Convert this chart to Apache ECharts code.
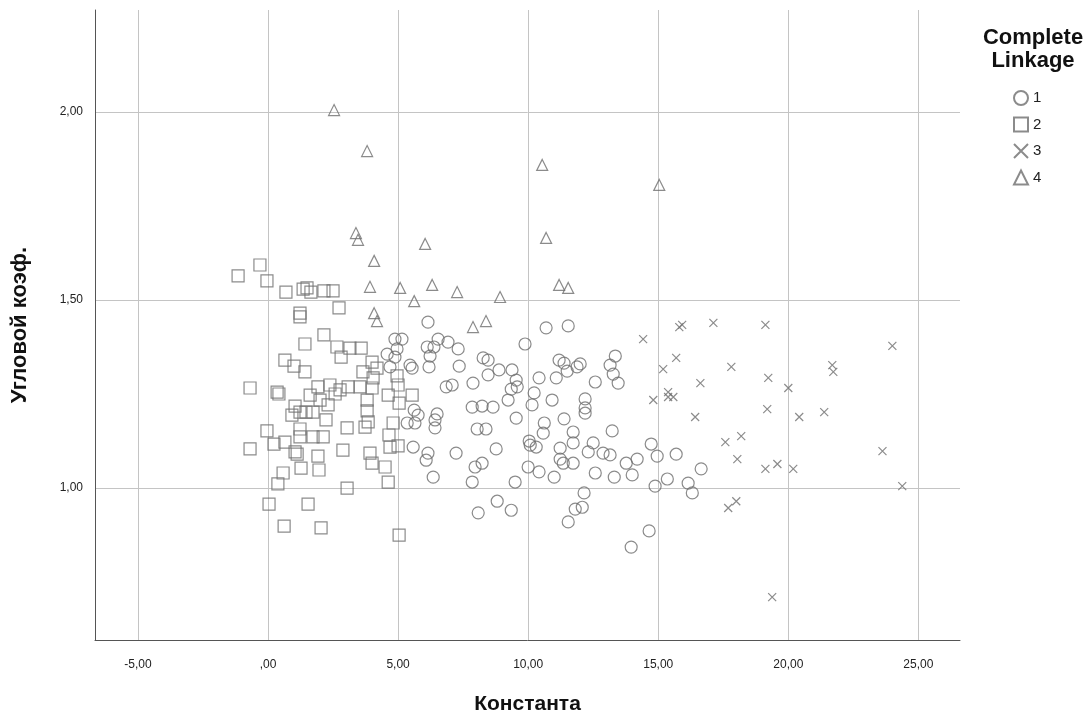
<!DOCTYPE html>
<html>
<head>
<meta charset="utf-8">
<script src="https://cdn.jsdelivr.net/npm/echarts@6/dist/echarts.min.js"></script>
<style>
html,body{margin:0;padding:0;background:#fff;}
#chart{width:1086px;height:713px;}
</style>
</head>
<body>
<div id="chart"></div>
<script>
// Cluster labels
const clusterNames = ['1', '2', '3', '4'];
// Tick values
const xTicks = [-5, 0, 5, 10, 15, 20, 25];
const yTicks = [1.0, 1.5, 2.0];

// Cluster 1 (circles): [Константа, Угловой коэф.]
const cluster1 = [
  [6.15,1.441],[4.88,1.396],[5.15,1.396],[4.96,1.370],[4.58,1.356],[4.88,1.348],[4.69,1.322],
  [6.12,1.375],[6.38,1.375],[6.54,1.396],[6.92,1.388],[7.31,1.370],[6.23,1.351],[6.19,1.322],
  [7.35,1.324],[5.46,1.327],[5.54,1.319],[6.85,1.269],[7.08,1.274],[5.62,1.207],[5.77,1.194],
  [5.65,1.173],[5.35,1.173],[6.50,1.197],[6.42,1.181],[6.42,1.160],[5.58,1.109],[6.15,1.093],
  [6.08,1.074],[7.23,1.093],[6.35,1.029],[10.69,1.426],[11.54,1.431],[9.88,1.383],[8.27,1.346],
  [8.46,1.340],[8.46,1.301],[8.88,1.314],[9.38,1.314],[7.88,1.279],[9.54,1.287],[9.58,1.269],
  [9.35,1.263],[9.23,1.234],[7.85,1.215],[8.23,1.218],[8.65,1.215],[9.54,1.186],[11.19,1.340],
  [11.38,1.332],[11.50,1.311],[11.88,1.322],[12.00,1.330],[10.42,1.293],[11.08,1.293],[10.23,1.253],
  [10.92,1.234],[10.15,1.221],[12.19,1.237],[12.19,1.213],[12.19,1.199],[10.62,1.173],[11.38,1.184],
  [8.04,1.157],[8.38,1.157],[10.58,1.146],[11.73,1.149],[11.73,1.120],[12.31,1.096],[8.77,1.104],
  [10.04,1.125],[10.08,1.114],[10.31,1.109],[11.23,1.106],[11.23,1.077],[11.35,1.066],[11.73,1.066],
  [7.96,1.056],[8.23,1.066],[10.00,1.056],[10.42,1.043],[11.00,1.029],[7.85,1.016],[9.50,1.016],
  [8.81,0.965],[8.08,0.934],[9.35,0.941],[12.15,0.987],[11.81,0.944],[12.08,0.949],[11.54,0.910],
  [13.35,1.351],[13.15,1.327],[13.27,1.303],[13.46,1.279],[12.58,1.282],[13.23,1.152],[12.50,1.120],
  [12.88,1.093],[13.15,1.088],[13.77,1.066],[14.19,1.077],[14.73,1.117],[14.96,1.085],[15.69,1.090],
  [12.58,1.040],[13.31,1.029],[14.00,1.035],[14.88,1.005],[15.35,1.024],[16.15,1.013],[16.31,0.987],
  [16.65,1.051],[14.65,0.886],[13.96,0.843]
];

// Cluster 2 (squares)
const cluster2 = [
  [-1.15,1.564],[-0.31,1.593],[-0.04,1.551],[0.69,1.521],[1.35,1.529],[1.50,1.532],[1.65,1.521],
  [2.15,1.524],[2.50,1.524],[2.73,1.479],[1.23,1.465],[1.23,1.455],[2.15,1.407],[1.42,1.383],
  [2.65,1.375],[2.81,1.348],[0.65,1.340],[1.00,1.324],[1.42,1.309],[3.15,1.372],[3.58,1.372],
  [4.00,1.335],[4.19,1.319],[3.65,1.309],[4.04,1.293],[-0.69,1.266],[0.35,1.255],[0.42,1.250],
  [1.62,1.247],[1.92,1.269],[2.38,1.274],[2.58,1.250],[3.08,1.269],[3.54,1.269],[4.00,1.266],
  [4.62,1.247],[5.00,1.274],[5.54,1.247],[1.04,1.218],[0.92,1.194],[1.23,1.202],[1.46,1.202],
  [1.73,1.202],[2.23,1.181],[-0.04,1.152],[1.23,1.157],[1.23,1.136],[1.73,1.136],[2.12,1.136],
  [3.04,1.160],[-0.69,1.104],[0.23,1.117],[0.65,1.122],[1.04,1.096],[1.12,1.090],[1.92,1.085],
  [2.88,1.101],[0.58,1.040],[1.27,1.053],[1.96,1.048],[0.38,1.011],[3.04,1.000],[0.04,0.957],
  [1.54,0.957],[0.62,0.899],[2.04,0.894],[3.81,1.234],[5.04,1.226],[3.81,1.205],[3.85,1.176],
  [3.73,1.162],[4.81,1.173],[4.65,1.141],[4.69,1.109],[5.00,1.112],[3.92,1.093],[4.00,1.066],
  [4.50,1.056],[4.62,1.016],[5.04,0.875],[2.31,1.221],[2.00,1.234],[2.77,1.261],[4.96,1.298]
];

// Cluster 3 (crosses)
const cluster3 = [
  [14.42,1.396],[15.81,1.428],[15.92,1.434],[17.12,1.439],[19.12,1.434],[24.00,1.378],[15.69,1.346],
  [15.19,1.316],[17.81,1.322],[21.69,1.327],[21.73,1.309],[16.62,1.279],[19.23,1.293],[20.00,1.266],
  [14.81,1.234],[15.38,1.255],[15.38,1.242],[15.58,1.242],[16.42,1.189],[19.19,1.210],[20.42,1.189],
  [21.38,1.202],[17.58,1.122],[18.19,1.138],[18.04,1.077],[19.12,1.051],[19.58,1.064],[20.19,1.051],
  [23.62,1.098],[24.38,1.005],[17.69,0.947],[18.00,0.965],[19.38,0.710]
];

// Cluster 4 (triangles)
const cluster4 = [
  [2.54,2.005],[3.81,1.896],[10.54,1.859],[15.04,1.806],[3.38,1.678],[3.46,1.660],[10.69,1.665],
  [6.04,1.649],[4.08,1.604],[3.92,1.535],[5.08,1.532],[6.31,1.540],[7.27,1.521],[5.62,1.497],
  [8.92,1.508],[11.19,1.540],[11.54,1.532],[4.08,1.465],[4.19,1.444],[8.38,1.444],[7.88,1.428]
];

function fmt(v) {
  let s = Math.abs(v).toFixed(2).replace('.', ',');
  if (Math.abs(v) < 1) s = s.replace(/^0/, '');
  return (v < 0 ? '-' : '') + s;
}

const stroke = '#6e6e6e';
const crossPath = 'path://M0,0L10,10M10,0L0,10';
const seriesDefs = [
  {name: clusterNames[0], data: cluster1, symbol: 'circle', size: 12},
  {name: clusterNames[1], data: cluster2, symbol: 'rect', size: 12},
  {name: clusterNames[2], data: cluster3, symbol: crossPath, size: 8},
  {name: clusterNames[3], data: cluster4, symbol: 'triangle', size: 11}
];

const chart = echarts.init(document.getElementById('chart'), null, {renderer: 'canvas'});
const font = '"Liberation Sans", Arial, sans-serif';

chart.setOption({
  animation: false,
  backgroundColor: '#ffffff',
  textStyle: {fontFamily: font},
  title: {
    text: 'Complete\nLinkage',
    left: 1028, top: 21,
    textAlign: 'center',
    textStyle: {fontSize: 22, fontWeight: 'bold', color: '#111', lineHeight: 23, fontFamily: font}
  },
  legend: {
    orient: 'vertical',
    left: 1008, top: 85,
    itemWidth: 14, itemHeight: 14, itemGap: 10.5,
    textStyle: {fontSize: 15, color: '#222'},
    data: clusterNames
  },
  grid: {left: 95, right: 126, top: 10, bottom: 73, containLabel: false, outerBoundsMode: 'none'},
  xAxis: {
    type: 'value', min: -6.65, max: 26.6,
    name: 'Константа', nameLocation: 'middle', nameGap: 54,
    nameTextStyle: {fontSize: 21, fontWeight: 'bold', color: '#111', fontFamily: font},
    axisLine: {show: true, onZero: false, lineStyle: {color: '#555', width: 1}},
    axisTick: {show: false, customValues: xTicks},
    axisLabel: {customValues: xTicks, formatter: fmt, fontSize: 12, color: '#222', margin: 19},
    splitLine: {show: true, lineStyle: {color: '#c4c4c4', width: 1}}
  },
  yAxis: {
    type: 'value', min: 0.596, max: 2.271,
    name: 'Угловой коэф.', nameLocation: 'middle', nameGap: 64,
    nameTextStyle: {fontSize: 22, fontWeight: 'bold', color: '#111', fontFamily: font},
    axisLine: {show: true, onZero: false, lineStyle: {color: '#555', width: 1}},
    axisTick: {show: false, customValues: yTicks},
    axisLabel: {customValues: yTicks, formatter: fmt, fontSize: 12, color: '#222', margin: 12},
    splitLine: {show: true, lineStyle: {color: '#c4c4c4', width: 1}}
  },
  series: seriesDefs.map(d => ({
    name: d.name,
    type: 'scatter',
    data: d.data,
    symbol: d.symbol,
    symbolSize: d.size,
    itemStyle: {color: 'rgba(255,255,255,0)', borderColor: stroke, borderWidth: 1.2},
    emphasis: {disabled: true}
  }))
});
</script>
</body>
</html>
